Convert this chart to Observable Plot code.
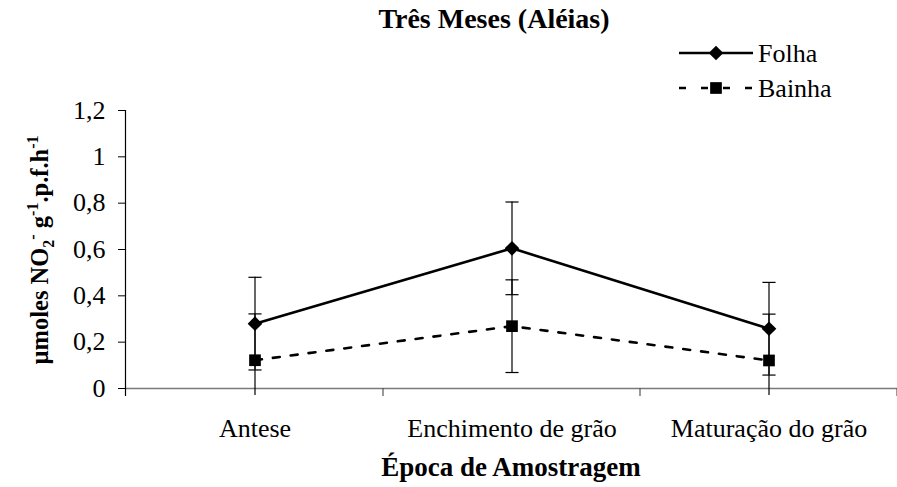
<!DOCTYPE html>
<html><head><meta charset="utf-8">
<script src="https://cdn.jsdelivr.net/npm/d3@7"></script>
<script src="https://cdn.jsdelivr.net/npm/@observablehq/plot@0.6"></script>
<style>body{margin:0;background:#fff}#chart svg{display:block}</style>
</head><body><div id="chart"></div>
<script>
const categories = ["Antese", "Enchimento de grão", "Maturação do grão"];
const folha = [0.28, 0.605, 0.258];
const folhaErr = [0.2, 0.2, 0.2];
const bainha = [0.122, 0.269, 0.121];
const bainhaErr = [0.2, 0.2, 0.2];
const seriesNames = ["Folha", "Bainha"];
const titleText = "Três Meses (Aléias)";
const xLabelText = "Época de Amostragem";

const FONT = "'Liberation Serif', 'Times New Roman', serif";
const rows = categories.flatMap((c, i) => [
  {cat: c, serie: "Folha", v: folha[i], e: folhaErr[i]},
  {cat: c, serie: "Bainha", v: bainha[i], e: bainhaErr[i]}
]);
const caps = rows.flatMap(d => [
  {cat: d.cat, y: d.v + d.e},
  {cat: d.cat, y: d.v - d.e}
]).filter(d => d.y >= 0);

const capSymbol = {draw(ctx, size) { const w = Math.sqrt(size); ctx.moveTo(-w, 0); ctx.lineTo(w, 0); }};

const chart = Plot.plot({
  width: 897, height: 487,
  marginTop: 110, marginBottom: 99, marginLeft: 125, marginRight: 0,
  style: {fontFamily: FONT, fontSize: "26px", color: "black", background: "white"},
  x: {type: "band", domain: categories, padding: 0, tickSize: 0, tickPadding: 30, label: null},
  y: {domain: [0, 1.2], ticks: 6, tickSize: 7, tickPadding: 13, label: null,
      tickFormat: d => String(+d.toFixed(2)).replace(".", ",")},
  marks: [
    Plot.ruleY([0], {stroke: "#7a7a7a", strokeWidth: 1.6}),
    Plot.ruleX(rows, {x: "cat", y1: d => Math.max(d.v - d.e, -0.03), y2: d => d.v + d.e, stroke: "black", strokeWidth: 1.2}),
    Plot.dot(caps, {x: "cat", y: "y", symbol: capSymbol, r: 3.7, stroke: "black", strokeWidth: 1.2, fill: "none"}),
    Plot.line(rows.filter(d => d.serie === "Bainha"), {x: "cat", y: "v", stroke: "black", strokeWidth: 2.6, strokeDasharray: "7,11"}),
    Plot.line(rows.filter(d => d.serie === "Folha"), {x: "cat", y: "v", stroke: "black", strokeWidth: 2.6}),
    Plot.dot(rows.filter(d => d.serie === "Bainha"), {x: "cat", y: "v", symbol: "square", r: 6.6, fill: "black", stroke: "none"}),
    Plot.dot(rows.filter(d => d.serie === "Folha"), {x: "cat", y: "v", symbol: "diamond2", r: 6.6, fill: "black", stroke: "none"})
  ]
});
document.getElementById("chart").appendChild(chart);

const svg = d3.select(chart);
const xs = chart.scale("x"), ys = chart.scale("y");
const y0 = ys.apply(0), yTop = ys.apply(1.2);
const x0 = xs.range[0];
// y axis line
svg.append("line").attr("x1", x0 + 0.5).attr("x2", x0 + 0.5).attr("y1", yTop).attr("y2", y0 + 8)
  .attr("stroke", "black").attr("stroke-width", 1.2);
// category boundary ticks
const bw = xs.bandwidth;
const bounds = categories.map(c => xs.apply(c)).concat([xs.apply(categories[categories.length - 1]) + bw]);
bounds.slice(1).forEach(b => {
  svg.append("line").attr("x1", b).attr("x2", b).attr("y1", y0).attr("y2", y0 + 8)
    .attr("stroke", "#555").attr("stroke-width", 1.2);
});
// title
svg.append("text").attr("x", 494).attr("y", 28).attr("text-anchor", "middle")
  .attr("font-family", FONT).attr("font-weight", "bold").attr("font-size", 28).text(titleText);
// x label
svg.append("text").attr("x", (xs.range[0] + xs.range[1]) / 2).attr("y", 476).attr("text-anchor", "middle")
  .attr("font-family", FONT).attr("font-weight", "bold").attr("font-size", 27).text(xLabelText);
// y label
const yl = svg.append("text").attr("transform", `translate(48,250) rotate(-90)`).attr("text-anchor", "middle")
  .attr("font-family", FONT).attr("font-weight", "bold").attr("font-size", 24.5);
yl.append("tspan").text("µmoles NO");
yl.append("tspan").attr("font-size", 16).attr("dy", 6).text("2");
yl.append("tspan").attr("font-size", 16).attr("dy", -16).text("-");
yl.append("tspan").attr("dy", 10).text(" g");
yl.append("tspan").attr("font-size", 16).attr("dy", -10).text("-1");
yl.append("tspan").attr("dy", 10).text(".p.f.h");
yl.append("tspan").attr("font-size", 16).attr("dy", -10).text("-1");
// legend
const lg = svg.append("g");
const legendItems = [
  {name: seriesNames[0], y: 53, dash: null, sym: d3.symbolDiamond2},
  {name: seriesNames[1], y: 88, dash: "7,15", sym: d3.symbolSquare}
];
legendItems.forEach(it => {
  lg.append("line").attr("x1", 679).attr("x2", 753).attr("y1", it.y).attr("y2", it.y)
    .attr("stroke", "black").attr("stroke-width", 2.6).attr("stroke-dasharray", it.dash);
  lg.append("path").attr("transform", `translate(716,${it.y})`)
    .attr("d", d3.symbol(it.sym, Math.PI * 6.6 * 6.6)()).attr("fill", "black");
  lg.append("text").attr("x", 758).attr("y", it.y + 9).attr("text-anchor", "start")
    .attr("font-family", FONT).attr("font-size", 26).text(it.name);
});
</script></body></html>
